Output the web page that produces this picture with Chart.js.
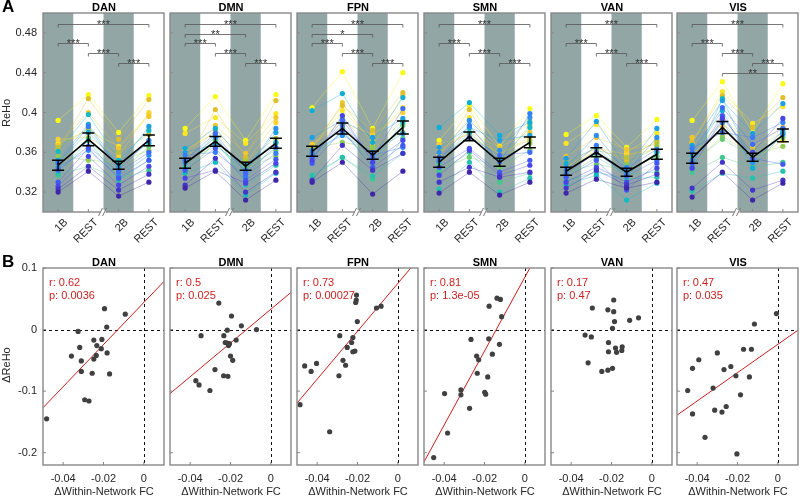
<!DOCTYPE html>
<html>
<head>
<meta charset="utf-8">
<title>ReHo by network</title>
<script src="https://cdn.jsdelivr.net/npm/chart.js@4.4.0/dist/chart.umd.min.js"></script>
<style>
  body { margin: 0; background: #fff; }
  #fig { position: relative; width: 800px; height: 496px; overflow: hidden;
         font-family: "Liberation Sans", Arial, sans-serif; color: #262626; }
  #fig canvas { position: absolute; }
  .t { position: absolute; font-size: 11px; line-height: 14px; text-align: center; white-space: nowrap; }
  .ttl { font-weight: bold; color: #000; }
  .lab { position: absolute; font-weight: bold; font-size: 17px; line-height: 17px; color: #000; }
  .rot { transform: rotate(-90deg); }
</style>
</head>
<body>
<div id="fig"></div>
<script>
// ---- data ----
const networks = ['DAN', 'DMN', 'FPN', 'SMN', 'VAN', 'VIS'];
const conditions = ['1B', 'REST', '2B', 'REST'];
const rehoTicks = [0.32, 0.36, 0.40, 0.44, 0.48];
const fcTicks = [-0.04, -0.02, 0];
const dRehoTicks = [0.1, 0, -0.1, -0.2];

// per subject: [1B, REST, 2B, REST]
const rehoDAN = [
  [0.320,0.341,0.316,0.330],[0.323,0.346,0.322,0.338],[0.326,0.356,0.327,0.346],[0.330,0.364,0.334,0.352],
  [0.342,0.366,0.340,0.360],[0.349,0.386,0.342,0.372],[0.345,0.362,0.336,0.357],[0.352,0.388,0.346,0.386],
  [0.350,0.380,0.348,0.369],[0.361,0.398,0.352,0.382],[0.339,0.372,0.332,0.352],[0.337,0.346,0.334,0.342],
  [0.347,0.374,0.338,0.366],[0.356,0.352,0.350,0.362],[0.365,0.384,0.360,0.378],[0.363,0.414,0.373,0.413],
  [0.367,0.400,0.364,0.396],[0.373,0.375,0.356,0.400],[0.369,0.382,0.366,0.398],[0.392,0.418,0.380,0.417]];
const rehoDMN = [
  [0.324,0.341,0.312,0.332],[0.327,0.354,0.320,0.340],[0.334,0.342,0.329,0.349],[0.342,0.364,0.332,0.353],
  [0.352,0.379,0.339,0.365],[0.357,0.360,0.336,0.359],[0.349,0.375,0.340,0.384],[0.360,0.368,0.342,0.380],
  [0.364,0.384,0.348,0.370],[0.339,0.350,0.317,0.339],[0.345,0.378,0.327,0.347],[0.340,0.370,0.335,0.369],
  [0.351,0.366,0.345,0.362],[0.337,0.372,0.344,0.356],[0.355,0.382,0.352,0.374],[0.348,0.403,0.355,0.412],
  [0.358,0.387,0.359,0.395],[0.362,0.380,0.349,0.390],[0.379,0.395,0.369,0.399],[0.384,0.416,0.372,0.418]];
const rehoFPN = [
  [0.330,0.350,0.318,0.341],[0.332,0.367,0.342,0.359],[0.352,0.397,0.350,0.372],[0.349,0.382,0.345,0.367],
  [0.355,0.392,0.354,0.404],[0.359,0.387,0.357,0.365],[0.362,0.377,0.360,0.379],[0.375,0.392,0.375,0.394],
  [0.402,0.419,0.370,0.415],[0.356,0.380,0.350,0.390],[0.337,0.355,0.336,0.359],[0.335,0.355,0.333,0.374],
  [0.360,0.384,0.346,0.387],[0.364,0.370,0.365,0.380],[0.358,0.395,0.362,0.392],[0.366,0.407,0.382,0.420],
  [0.361,0.410,0.367,0.417],[0.368,0.390,0.378,0.400],[0.365,0.402,0.372,0.405],[0.405,0.441,0.384,0.440]];
const rehoSMN = [
  [0.319,0.340,0.317,0.330],[0.330,0.345,0.335,0.340],[0.337,0.362,0.337,0.347],[0.345,0.364,0.340,0.352],
  [0.355,0.375,0.357,0.360],[0.352,0.387,0.350,0.399],[0.360,0.392,0.362,0.395],[0.365,0.385,0.372,0.377],
  [0.385,0.410,0.377,0.390],[0.350,0.380,0.352,0.385],[0.323,0.350,0.320,0.334],[0.340,0.360,0.330,0.339],
  [0.343,0.355,0.345,0.362],[0.348,0.385,0.355,0.369],[0.352,0.375,0.360,0.372],[0.357,0.403,0.349,0.388],
  [0.362,0.380,0.365,0.380],[0.368,0.378,0.358,0.375],[0.357,0.395,0.363,0.392],[0.372,0.407,0.366,0.404]];
const rehoVAN = [
  [0.319,0.333,0.324,0.330],[0.324,0.342,0.327,0.338],[0.330,0.345,0.330,0.344],[0.335,0.352,0.322,0.349],
  [0.338,0.360,0.336,0.352],[0.342,0.367,0.344,0.363],[0.345,0.377,0.340,0.375],[0.354,0.391,0.345,0.384],
  [0.349,0.365,0.337,0.360],[0.327,0.337,0.312,0.329],[0.331,0.340,0.333,0.335],[0.336,0.355,0.338,0.340],
  [0.340,0.348,0.342,0.356],[0.347,0.358,0.348,0.366],[0.343,0.362,0.355,0.370],[0.350,0.364,0.352,0.372],
  [0.356,0.375,0.363,0.368],[0.345,0.364,0.358,0.362],[0.369,0.388,0.360,0.379],[0.378,0.397,0.365,0.393]];
const rehoVIS = [
  [0.315,0.340,0.312,0.329],[0.324,0.350,0.322,0.332],[0.344,0.394,0.360,0.394],[0.349,0.397,0.354,0.348],
  [0.360,0.405,0.368,0.384],[0.364,0.380,0.375,0.390],[0.352,0.390,0.350,0.378],[0.367,0.412,0.379,0.409],
  [0.357,0.402,0.344,0.379],[0.345,0.414,0.350,0.382],[0.321,0.339,0.334,0.341],[0.340,0.355,0.345,0.350],
  [0.350,0.373,0.356,0.375],[0.348,0.376,0.357,0.366],[0.362,0.390,0.362,0.380],[0.370,0.417,0.385,0.415],
  [0.375,0.395,0.365,0.385],[0.358,0.385,0.352,0.372],[0.370,0.421,0.389,0.406],[0.392,0.431,0.380,0.429]];

const meanDAN = [0.347, 0.373, 0.347, 0.372], semDAN = [0.005, 0.0065, 0.004, 0.0055];
const meanDMN = [0.349, 0.371, 0.346, 0.369], semDMN = [0.005, 0.005, 0.004, 0.005];
const meanFPN = [0.361, 0.384, 0.357, 0.385], semFPN = [0.005, 0.0055, 0.004, 0.0065];
const meanSMN = [0.350, 0.376, 0.350, 0.370], semSMN = [0.005, 0.0045, 0.004, 0.0055];
const meanVAN = [0.341, 0.360, 0.340, 0.358], semVAN = [0.004, 0.0045, 0.004, 0.005];
const meanVIS = [0.354, 0.385, 0.355, 0.377], semVIS = [0.005, 0.006, 0.004, 0.0065];

// [from, to, level, stars]
const sigDAN = [[0,3,0.489,'***'],[0,1,0.470,'***'],[1,2,0.460,'***'],[2,3,0.450,'***']];
const sigDMN = [[0,3,0.489,'***'],[0,2,0.479,'**'],[0,1,0.470,'***'],[1,2,0.460,'***'],[2,3,0.450,'***']];
const sigFPN = [[0,3,0.489,'***'],[0,2,0.479,'*'],[0,1,0.470,'***'],[1,2,0.460,'***'],[2,3,0.450,'***']];
const sigSMN = [[0,3,0.489,'***'],[0,1,0.470,'***'],[1,2,0.460,'***'],[2,3,0.450,'***']];
const sigVAN = [[0,3,0.489,'***'],[0,1,0.470,'***'],[1,2,0.460,'***'],[2,3,0.450,'***']];
const sigVIS = [[0,3,0.489,'***'],[0,1,0.470,'***'],[1,2,0.460,'***'],[2,3,0.450,'***'],[1,3,0.440,'**']];

// scatter: delta within-network FC vs delta ReHo
const fcDAN = [-0.0482,-0.0359,-0.0326,-0.0318,-0.031,-0.031,-0.0293,-0.0272,-0.0256,-0.0248,-0.0248,-0.0236,-0.0233,-0.0211,-0.0208,-0.0195,-0.0184,-0.0182,-0.017,-0.0092];
const dRehoDAN = [-0.145,-0.043,-0.003,-0.029,-0.051,-0.068,-0.114,-0.116,-0.071,-0.017,-0.048,-0.042,-0.026,-0.031,-0.016,0.034,0.004,-0.038,-0.072,0.025];
const fcDMN = [-0.0258,-0.0195,-0.0146,-0.0071,-0.0216,-0.0346,-0.0233,-0.0172,-0.0226,-0.0216,-0.0205,-0.021,-0.02,-0.0189,-0.0277,-0.0234,-0.0213,-0.0372,-0.0356,-0.0302];
const dRehoDMN = [0.043,0.022,0.006,0.000,-0.001,-0.010,-0.010,-0.017,-0.021,-0.022,-0.023,-0.026,-0.043,-0.050,-0.065,-0.075,-0.076,-0.083,-0.090,-0.099];
const fcFPN = [-0.0485,-0.0462,-0.043,-0.0403,-0.0338,-0.0292,-0.0288,-0.0272,-0.0259,-0.0251,-0.0229,-0.0223,-0.0223,-0.0213,-0.0201,-0.0209,-0.0206,-0.0205,-0.0106,-0.0083];
const dRehoFPN = [-0.122,-0.059,-0.068,-0.055,-0.166,-0.075,-0.010,-0.050,-0.058,-0.029,-0.021,-0.013,-0.036,-0.035,0.013,0.044,0.048,0.056,0.035,0.038];
const fcSMN = [-0.0452,-0.0383,-0.0398,-0.0317,-0.0317,-0.0274,-0.0267,-0.0239,-0.0229,-0.0236,-0.0199,-0.0194,-0.0184,-0.0179,-0.0177,-0.0161,-0.0126,-0.0138,-0.0121,-0.0115];
const dRehoSMN = [-0.208,-0.168,-0.104,-0.098,-0.106,-0.128,-0.016,-0.043,-0.049,-0.071,-0.102,-0.105,-0.077,-0.015,0.038,-0.040,-0.024,0.051,0.049,0.021];
const fcVAN = [-0.0295,-0.0189,-0.0218,-0.0189,-0.0185,-0.011,-0.0066,-0.0195,-0.0331,-0.03,-0.0215,-0.018,-0.0147,-0.0149,-0.0175,-0.0215,-0.0316,-0.0248,-0.0218,-0.0195];
const dRehoVAN = [0.035,0.048,0.032,0.029,0.013,0.015,0.019,0.002,-0.009,-0.012,-0.021,-0.030,-0.028,-0.034,-0.037,-0.036,-0.054,-0.068,-0.066,-0.063];
const fcVIS = [-0.0007,-0.0116,-0.017,-0.0131,-0.03,-0.0392,-0.0423,-0.0267,-0.0233,-0.0208,-0.0141,-0.0447,-0.0321,-0.0185,-0.0313,-0.0277,-0.0256,-0.0423,-0.0361,-0.0203];
const dRehoVIS = [0.026,0.009,-0.032,-0.032,-0.038,-0.049,-0.063,-0.065,-0.060,-0.075,-0.077,-0.099,-0.095,-0.106,-0.131,-0.134,-0.125,-0.137,-0.175,-0.202];

const statDAN = ['r: 0.62', 'p: 0.0036'];
const statDMN = ['r: 0.5', 'p: 0.025'];
const statFPN = ['r: 0.73', 'p: 0.00027'];
const statSMN = ['r: 0.81', 'p: 1.3e-05'];
const statVAN = ['r: 0.17', 'p: 0.47'];
const statVIS = ['r: 0.47', 'p: 0.035'];

// fitted line [intercept, slope]; VAN has none
const fitDAN = [0.044, 3.42];
const fitDMN = [0.033, 2.74];
const fitFPN = [0.075, 3.89];
const fitSMN = [0.085, 6.0];
const fitVAN = null;
const fitVIS = [-0.024, 2.3];

const reho = {DAN: rehoDAN, DMN: rehoDMN, FPN: rehoFPN, SMN: rehoSMN, VAN: rehoVAN, VIS: rehoVIS};
const means = {DAN: meanDAN, DMN: meanDMN, FPN: meanFPN, SMN: meanSMN, VAN: meanVAN, VIS: meanVIS};
const sems = {DAN: semDAN, DMN: semDMN, FPN: semFPN, SMN: semSMN, VAN: semVAN, VIS: semVIS};
const sigs = {DAN: sigDAN, DMN: sigDMN, FPN: sigFPN, SMN: sigSMN, VAN: sigVAN, VIS: sigVIS};
const fcs = {DAN: fcDAN, DMN: fcDMN, FPN: fcFPN, SMN: fcSMN, VAN: fcVAN, VIS: fcVIS};
const dRehos = {DAN: dRehoDAN, DMN: dRehoDMN, FPN: dRehoFPN, SMN: dRehoSMN, VAN: dRehoVAN, VIS: dRehoVIS};
const stats = {DAN: statDAN, DMN: statDMN, FPN: statFPN, SMN: statSMN, VAN: statVAN, VIS: statVIS};
const fits = {DAN: fitDAN, DMN: fitDMN, FPN: fitFPN, SMN: fitSMN, VAN: fitVAN, VIS: fitVIS};

// ---- layout / style ----
const FONT = '"Liberation Sans", Arial, sans-serif';
const INK = '#262626';
const RED = '#cc1f1f';
const boxLefts = [43, 170, 297, 424, 551, 677];
const BOX_W = 122;

// parula-like colormap
const parula = [[62,38,168],[71,71,235],[62,111,255],[39,150,235],[8,181,208],
                [49,198,159],[129,204,89],[220,189,41],[252,207,48],[249,251,21]];
function cmap(t, a) {
  const f = t * (parula.length - 1), i = Math.min(Math.floor(f), parula.length - 2), u = f - i;
  const c = parula[i].map((v, k) => Math.round(v + (parula[i + 1][k] - v) * u));
  return `rgba(${c[0]},${c[1]},${c[2]},${a})`;
}

const deco = {
  id: 'deco',
  beforeDatasetsDraw(chart, args, o) {
    const {ctx, chartArea: a, scales: {x, y}} = chart;
    ctx.save();
    if (o.bands) {
      ctx.fillStyle = '#93a6a6';
      o.bands.forEach(c => {
        const l = x.getPixelForValue(c - 0.5), r = x.getPixelForValue(c + 0.5);
        ctx.fillRect(l, a.top, r - l, a.bottom - a.top);
      });
    }
    if (o.zero) {
      ctx.strokeStyle = '#111'; ctx.lineWidth = 1; ctx.setLineDash([3, 3]);
      const x0 = Math.round(x.getPixelForValue(0)) + 0.5, y0 = Math.round(y.getPixelForValue(0)) + 0.5;
      ctx.beginPath();
      ctx.moveTo(x0, a.top); ctx.lineTo(x0, a.bottom);
      ctx.moveTo(a.left, y0); ctx.lineTo(a.right, y0);
      ctx.stroke();
    }
    ctx.restore();
  },
  afterDatasetsDraw(chart, args, o) {
    const {ctx, chartArea: a, scales: {x, y}} = chart;
    ctx.save();
    if (o.mean) {
      ctx.strokeStyle = '#000'; ctx.lineWidth = 1.5;
      o.mean.forEach((m, i) => {
        const px = x.getPixelForValue(i), t = y.getPixelForValue(m + o.sem[i]), b = y.getPixelForValue(m - o.sem[i]);
        ctx.beginPath();
        ctx.moveTo(px, t); ctx.lineTo(px, b);
        ctx.moveTo(px - 6, t); ctx.lineTo(px + 6, t);
        ctx.moveTo(px - 6, b); ctx.lineTo(px + 6, b);
        ctx.stroke();
      });
    }
    if (o.sig) {
      ctx.strokeStyle = '#555'; ctx.lineWidth = 0.8;
      ctx.fillStyle = '#333'; ctx.font = '11px ' + FONT; ctx.textAlign = 'center';
      o.sig.forEach(([i, j, lv, s]) => {
        const p1 = x.getPixelForValue(i), p2 = x.getPixelForValue(j), py = Math.round(y.getPixelForValue(lv)) + 0.5;
        ctx.beginPath();
        ctx.moveTo(p1, py + 3); ctx.lineTo(p1, py); ctx.lineTo(p2, py); ctx.lineTo(p2, py + 3);
        ctx.stroke();
        ctx.fillText(s, (p1 + p2) / 2, py + 3);
      });
    }
    if (o.stat) {
      ctx.fillStyle = RED; ctx.font = '11px ' + FONT; ctx.textAlign = 'left';
      ctx.fillText(o.stat[0], a.left + 6, a.top + 18);
      ctx.fillText(o.stat[1], a.left + 6, a.top + 31);
    }
    ctx.restore();
  },
  afterDraw(chart, args, o) {
    const {ctx, chartArea: a, scales: {x, y}} = chart;
    ctx.save();
    ctx.strokeStyle = '#888'; ctx.lineWidth = 1;
    ctx.beginPath();
    y.ticks.forEach(t => { const py = y.getPixelForValue(t.value); ctx.moveTo(a.left, py); ctx.lineTo(a.left + 3, py); });
    x.ticks.forEach(t => { const px = x.getPixelForValue(t.value); ctx.moveTo(px, a.bottom); ctx.lineTo(px, a.bottom - 3); });
    ctx.stroke();
    ctx.lineWidth = 1.4;
    ctx.strokeRect(a.left, a.top, a.right - a.left, a.bottom - a.top);
    if (o.brk) {
      const xb = x.getPixelForValue(1.5);
      ctx.fillStyle = '#fff';
      ctx.fillRect(xb - 3, a.bottom - 2, 5, 4);
      ctx.strokeStyle = '#777'; ctx.lineWidth = 1;
      ctx.beginPath();
      ctx.moveTo(xb - 5, a.bottom + 4); ctx.lineTo(xb - 1, a.bottom - 4);
      ctx.moveTo(xb - 1, a.bottom + 4); ctx.lineTo(xb + 3, a.bottom - 4);
      ctx.stroke();
    }
    ctx.restore();
  }
};
Chart.register(deco);

const fig = document.getElementById('fig');
function addCanvas(left, top, w, h) {
  const c = document.createElement('canvas');
  c.width = w; c.height = h;
  c.style.left = left + 'px'; c.style.top = top + 'px';
  c.style.width = w + 'px'; c.style.height = h + 'px';
  fig.appendChild(c);
  return c;
}
function addText(cls, txt, left, top, w) {
  const d = document.createElement('div');
  d.className = cls; d.textContent = txt;
  d.style.left = left + 'px'; d.style.top = top + 'px';
  if (w) d.style.width = w + 'px';
  fig.appendChild(d);
  return d;
}
const tickFont = {family: FONT, size: 11};

networks.forEach((net, col) => {
  const bl = boxLefts[col];
  const padL = col === 0 ? bl : 5;

  // ---- row A ----
  const topTop = 0, topH = 250, topPadT = 13, topPadB = 38;
  const cA = addCanvas(bl - padL, topTop, padL + BOX_W + 3, topH);
  const n = reho[net].length;
  const dsA = [{
    data: means[net].map((v, i) => ({x: i, y: v})),
    borderColor: '#000', borderWidth: 1.6, pointRadius: 0, order: 0
  }];
  reho[net].forEach((row, s) => {
    dsA.push({
      data: row.map((v, i) => ({x: i, y: v})),
      borderColor: cmap(s / (n - 1), 0.45), borderWidth: 0.8,
      pointRadius: 2.6, pointBackgroundColor: cmap(s / (n - 1), 1), pointBorderWidth: 0,
      order: 1 + s
    });
  });
  new Chart(cA, {
    type: 'line',
    data: {datasets: dsA},
    options: {
      responsive: false, animation: false, devicePixelRatio: 1, events: [],
      layout: {padding: {top: topPadT, right: 3, left: 0, bottom: 0}},
      plugins: {legend: {display: false}, tooltip: {enabled: false},
        deco: {bands: [0, 2], mean: means[net], sem: sems[net], sig: sigs[net], brk: true}},
      scales: {
        x: {type: 'linear', min: -0.5, max: 3.5,
            afterBuildTicks: s => { s.ticks = conditions.map((c, i) => ({value: i})); },
            afterFit: s => { s.height = topPadB; },
            ticks: {callback: v => conditions[v], minRotation: 45, maxRotation: 45, autoSkip: false,
                    font: tickFont, color: INK, padding: 4, labelOffset: 8},
            grid: {display: false, drawTicks: false}, border: {display: false}},
        y: {type: 'linear', min: 0.3, max: 0.5,
            afterBuildTicks: s => { s.ticks = rehoTicks.map(v => ({value: v})); },
            afterFit: s => { s.width = padL; },
            ticks: {display: col === 0, callback: v => String(+v.toFixed(2)), font: tickFont, color: INK, padding: 6},
            grid: {display: false, drawTicks: false}, border: {display: false}}
      }
    }
  });
  addText('t ttl', net, bl, 0, BOX_W);

  // ---- row B ----
  const botTop = 250, botH = 240, botPadT = 18, botPadB = 25;
  const cB = addCanvas(bl - padL, botTop, padL + BOX_W + 3, botH);
  const dsB = [{
    type: 'scatter',
    data: fcs[net].map((v, i) => ({x: v, y: dRehos[net][i]})),
    pointRadius: 2.6, pointBackgroundColor: '#404040', pointBorderWidth: 0, order: 0
  }];
  const fit = fits[net];
  if (fit) {
    dsB.push({
      type: 'line', showLine: true,
      data: [-0.05, 0.01].map(v => ({x: v, y: fit[0] + fit[1] * v})),
      borderColor: RED, borderWidth: 1, pointRadius: 0, order: 1
    });
  }
  new Chart(cB, {
    type: 'scatter',
    data: {datasets: dsB},
    options: {
      responsive: false, animation: false, devicePixelRatio: 1, events: [],
      layout: {padding: {top: botPadT, right: 3, left: 0, bottom: 0}},
      plugins: {legend: {display: false}, tooltip: {enabled: false},
        deco: {zero: true, stat: stats[net]}},
      scales: {
        x: {type: 'linear', min: -0.05, max: 0.01,
            afterBuildTicks: s => { s.ticks = fcTicks.map(v => ({value: v})); },
            afterFit: s => { s.height = botPadB; },
            ticks: {callback: v => String(+v.toFixed(2)), font: tickFont, color: INK, padding: 7, maxRotation: 0},
            grid: {display: false, drawTicks: false}, border: {display: false}},
        y: {type: 'linear', min: -0.22, max: 0.1,
            afterBuildTicks: s => { s.ticks = dRehoTicks.map(v => ({value: v})); },
            afterFit: s => { s.width = padL; },
            ticks: {display: col === 0, callback: v => String(+v.toFixed(2)), font: tickFont, color: INK, padding: 6},
            grid: {display: false, drawTicks: false}, border: {display: false}}
      }
    }
  });
  addText('t ttl', net, bl, 255, BOX_W);
  addText('t', '\u0394Within-Network FC', bl - 10, 484, BOX_W + 20);
});

addText('lab', 'A', 2, -2);
addText('lab', 'B', 2, 253);
addText('t rot', 'ReHo', -24, 106, 60);
addText('t rot', '\u0394ReHo', -24, 358, 60);
</script>
</body>
</html>
